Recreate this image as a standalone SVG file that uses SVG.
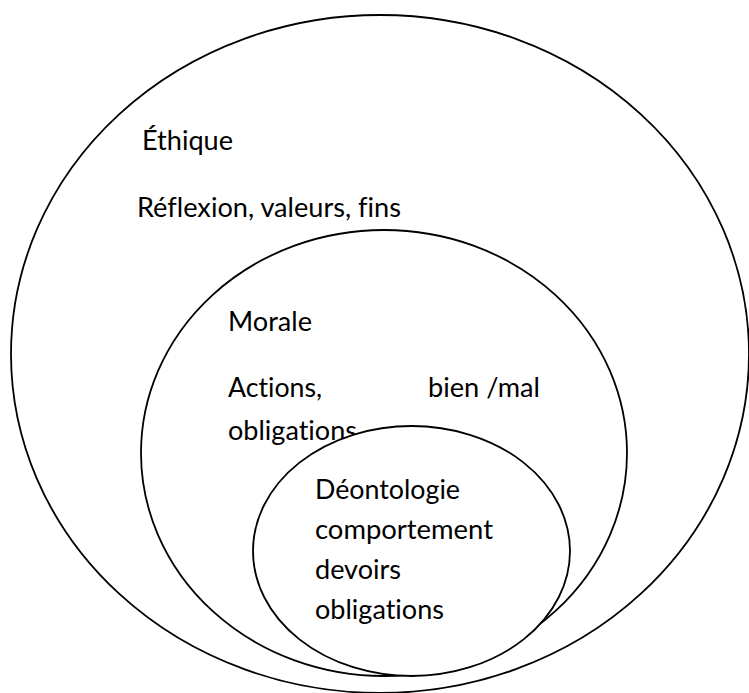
<svg xmlns="http://www.w3.org/2000/svg" width="749" height="693" viewBox="0 0 749 693">
  <style>
    .shape { fill: #ffffff; stroke: #000000; stroke-width: 1.8; }
    .lbl { font-family: "Lato", "Open Sans", "Liberation Sans", sans-serif; font-size: 26px; fill: #000000; font-variant-ligatures: none; font-feature-settings: "liga" 0, "clig" 0, "dlig" 0; }
  </style>
  <rect x="0" y="0" width="749" height="693" fill="#ffffff"/>
  <g id="ethique">
    <ellipse class="shape" cx="380" cy="354" rx="369" ry="339"/>
    <text class="lbl" x="142" y="150" textLength="91" lengthAdjust="spacingAndGlyphs">Éthique</text>
    <text class="lbl" x="137" y="217" textLength="264" lengthAdjust="spacingAndGlyphs">Réflexion, valeurs, fins</text>
  </g>
  <g id="morale">
    <ellipse class="shape" cx="384" cy="453" rx="243" ry="223"/>
    <text class="lbl" x="228" y="331" textLength="84" lengthAdjust="spacingAndGlyphs">Morale</text>
    <text class="lbl" x="228" y="397" textLength="94" lengthAdjust="spacingAndGlyphs">Actions,</text>
    <text class="lbl" x="428" y="397" textLength="112" lengthAdjust="spacingAndGlyphs">bien /mal</text>
    <text class="lbl" x="228" y="440" textLength="129" lengthAdjust="spacingAndGlyphs">obligations</text>
  </g>
  <g id="deontologie">
    <ellipse class="shape" cx="411.5" cy="551" rx="158.5" ry="125"/>
    <text class="lbl" x="315" y="499" textLength="145" lengthAdjust="spacingAndGlyphs">Déontologie</text>
    <text class="lbl" x="315" y="539" textLength="178" lengthAdjust="spacingAndGlyphs">comportement</text>
    <text class="lbl" x="315" y="579" textLength="86" lengthAdjust="spacingAndGlyphs">devoirs</text>
    <text class="lbl" x="315" y="619" textLength="129" lengthAdjust="spacingAndGlyphs">obligations</text>
  </g>
  <g id="connectors"/>
</svg>
